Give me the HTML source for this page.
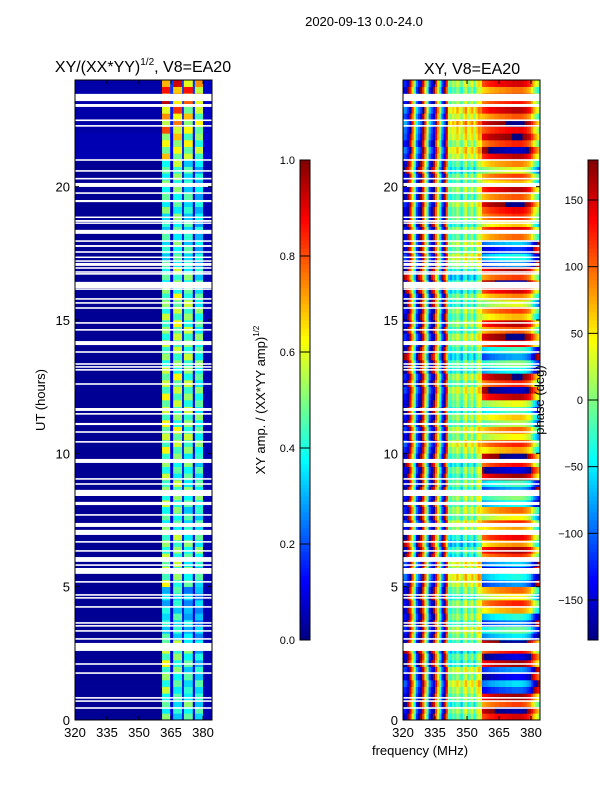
<!DOCTYPE html>
<html><head><meta charset="utf-8">
<style>
body{margin:0;background:#fff;width:600px;height:800px;overflow:hidden;font-family:"Liberation Sans","DejaVu Sans",sans-serif;}
svg text{font-family:"Liberation Sans","DejaVu Sans",sans-serif;fill:#000;}
</style></head><body>
<svg id="fig" width="600" height="800" xmlns="http://www.w3.org/2000/svg">
<text x="364" y="26" font-size="13" text-anchor="middle">2020-09-13 0.0-24.0</text>
<text x="143" y="72" font-size="16" text-anchor="middle">XY/(XX*YY)<tspan font-size="10" dy="-7">1/2</tspan><tspan dy="7">, V8=EA20</tspan></text>
<text x="472" y="74" font-size="16" text-anchor="middle">XY, V8=EA20</text>
<g id="left"></g>
<g id="right"></g>
<g id="axes"></g>
<text transform="translate(45,400) rotate(-90)" font-size="13" text-anchor="middle">UT (hours)</text>
<text x="420" y="755" font-size="13" text-anchor="middle">frequency (MHz)</text>
<text transform="translate(265,400) rotate(-90)" font-size="13" text-anchor="middle">XY amp. / (XX*YY amp)<tspan font-size="8" dy="-6">1/2</tspan></text>
<text transform="translate(544,400) rotate(-90)" font-size="13" text-anchor="middle">phase (deg)</text>
</svg>
<script>
// ---- data ----
const hours=[0,1,2,3,4,5,6,7,8,9,10,11,12,13,14,15,16,17,18,19,20,21,22,23];
const bandEdges=[[360.8,364.6],[366,370.2],[371,375.2],[376.2,380]];
const band1=[.45,.5,.55,.4,.35,.55,.5,.45,.5,.5,.55,.55,.55,.5,.5,.5,.45,.4,.4,.45,.45,.6,.7,.82];
const band2=[.4,.45,.5,.4,.4,.5,.5,.45,.5,.45,.55,.5,.55,.5,.55,.55,.5,.45,.45,.45,.5,.6,.72,.8];
const band3=[.45,.4,.45,.35,.3,.45,.45,.4,.45,.45,.5,.5,.5,.5,.5,.5,.45,.4,.4,.4,.4,.55,.6,.75];
const band4=[.4,.4,.35,.3,.3,.4,.45,.4,.45,.4,.45,.45,.45,.45,.45,.45,.4,.35,.35,.35,.35,.5,.55,.7];
const bgAmp=[.02,.02,.02,.02,.02,.02,.02,.02,.02,.02,.02,.02,.02,.02,.02,.02,.02,.02,.02,.02,.02,.05,.04,.04];
const gapAmp=[.1,.1,.1,.1,.08,.1,.1,.1,.1,.1,.1,.1,.1,.1,.1,.1,.1,.08,.08,.08,.08,.12,.15,.18];
const subRowAmp=[1.15,0.8,1.05,0.85];
const subRowPhase=[0,45,-35,20];
const gaps=[[23.21,23.48],[22.99,23.1],[22.46,22.52],[22.25,22.31],[20.97,21.03],[20.56,20.62],[20.27,20.33],[19.99,20.14],[19.73,19.79],[19.42,19.5],[18.83,18.88],[18.68,18.75],[18.61,18.66],[18.23,18.38],[17.93,17.99],[17.74,17.81],[17.52,17.58],[17.33,17.38],[17.18,17.24],[17.03,17.14],[16.92,16.98],[16.77,16.83],[16.7,16.76],[16.2,16.43],[16.13,16.19],[15.76,15.82],[15.61,15.67],[15.42,15.48],[14.86,14.92],[14.6,14.66],[14.06,14.21],[13.77,13.83],[13.32,13.38],[13.21,13.27],[13.1,13.16],[12.57,12.63],[11.59,11.7],[11.45,11.51],[11.06,11.14],[10.77,10.83],[10.4,10.46],[9.64,9.79],[9.01,9.07],[8.82,8.88],[8.4,8.63],[8.06,8.18],[7.66,7.72],[7.24,7.39],[6.94,7.13],[6.65,6.71],[6.31,6.37],[5.93,6.11],[5.78,5.84],[5.48,5.7],[5.15,5.21],[4.66,4.72],[4.55,4.61],[4.21,4.27],[3.61,3.67],[3.5,3.56],[3.31,3.37],[3.01,3.07],[2.59,2.89],[2.07,2.13],[1.73,1.79],[0.8,0.86],[0.68,0.74],[0.42,0.48]];
const freqPattern=[-150,-160,170,120,50,-20,-120,-160,175,110,40,-40,-130,-170,160,90,20,-60,-140,175,100,-20,-40,-10,-30,10,-20,-50,0,20,-30,-10,10,-40,0,30,20];
const hourShift=[0,30,-20,10,0,40,-30,20,0,-10,30,0,20,-20,10,0,-30,20,0,10,-10,40,60,20];
const hourRight=[110,-140,130,-90,40,-120,80,40,-80,130,40,-20,120,-80,100,30,110,-120,60,100,30,120,100,90];
const rightRamp=[0,5,10,15,20,20,25,25,30,30,30,35,35,35,40,40,40,40,40,35,30,20,10,-20,-50,-70,-90];
const ampTicks=[0,0.2,0.4,0.6,0.8,1.0];
const phaseTicks=[-150,-100,-50,0,50,100,150];
const freqTicks=[320,335,350,365,380];
const hourTicks=[0,5,10,15,20];

// ---- scales ----
const Y0=720,Y1=80,FMIN=320,FMAX=384.2;
const yS=h=>Y0-(h/24)*(Y0-Y1);
const xL=f=>75+(f-FMIN)/(FMAX-FMIN)*137;
const xR=f=>403+(f-FMIN)/(FMAX-FMIN)*137;
function jet(v){v=Math.max(0,Math.min(1,v));
 const c=x=>Math.round(255*Math.max(0,Math.min(1,x)));
 const r=c(Math.min(4*v-1.5,-4*v+4.5)),g=c(Math.min(4*v-0.5,-4*v+3.5)),b=c(Math.min(4*v+0.5,-4*v+2.5));
 return `rgb(${r},${g},${b})`;}
const NS='http://www.w3.org/2000/svg';
function mk(tag,attrs,parent){const e=document.createElementNS(NS,tag);for(const k in attrs)e.setAttribute(k,attrs[k]);parent.appendChild(e);return e;}
const wrap=p=>((p+180)%360+360)%360-180;
const NSUB=subRowAmp.length;

// ---- amplitude heatmap ----
const L=document.getElementById('left');
const bands=[band1,band2,band3,band4];
hours.forEach((h,i)=>{
 for(let s=0;s<NSUB;s++){
  const y=yS(h+(s+1)/NSUB),hh=yS(h+s/NSUB)-y;
  const segs=[[FMIN,bandEdges[0][0],bgAmp[i]]];
  bandEdges.forEach((be,b)=>{segs.push([be[0],be[1],bands[b][i]*subRowAmp[(s+b)%NSUB]]);
    if(b<3)segs.push([be[1],bandEdges[b+1][0],gapAmp[i]]);});
  segs.push([bandEdges[3][1],FMAX,bgAmp[i]+0.03]);
  segs.forEach(sg=>{const r=mk('rect',{x:xL(sg[0]),y:y,width:xL(sg[1])-xL(sg[0])+0.3,height:hh+0.3,fill:jet(sg[2])},L);
   
   });
 }
});
// ---- phase heatmap ----
const R=document.getElementById('right');
hours.forEach((h,i)=>{
 for(let s=0;s<NSUB;s++){
  const y=yS(h+(s+1)/NSUB),hh=yS(h+s/NSUB)-y;
  for(let c=0;c<64;c++){
   let p;
   if(c<freqPattern.length)p=freqPattern[c]+hourShift[i]+subRowPhase[s]*0.5;
   else p=hourRight[i]+rightRamp[Math.min(c-freqPattern.length,rightRamp.length-1)]+subRowPhase[s];
   const f=FMIN+c;
   const r=mk('rect',{x:xR(f),y:y,width:xR(f+1)-xR(f)+0.3,height:hh+0.3,fill:jet((wrap(p)+180)/360)},R);
   
   
  }
 }
});
// gaps
[[L,xL],[R,xR]].forEach(([g,xs])=>{gaps.forEach(gp=>{
 const r=mk('rect',{x:xs(FMIN),y:yS(gp[1]),width:137,height:Math.max(1.5,yS(gp[0])-yS(gp[1])),fill:'#fff'},g);
 
 });});

// ---- axes ----
const A=document.getElementById('axes');
[[75,xL],[403,xR]].forEach(([x0,xs])=>{
 const fr=mk('rect',{x:x0,y:Y1,width:137,height:Y0-Y1,fill:'none',stroke:'#000','stroke-width':1},A);
 
 
 hourTicks.forEach(t=>{const y=yS(t);
  mk('line',{x1:x0,x2:x0+4,y1:y,y2:y,stroke:'#000'},A);
  mk('line',{x1:x0+137,x2:x0+133,y1:y,y2:y,stroke:'#000'},A);
  const tx=mk('text',{x:x0-5,y:y+5,'font-size':13,'text-anchor':'end'},A);tx.textContent=t;
  
  });
 freqTicks.forEach(t=>{const x=xs(t);
  mk('line',{x1:x,x2:x,y1:Y0,y2:Y0-4,stroke:'#000'},A);
  mk('line',{x1:x,x2:x,y1:Y1,y2:Y1+4,stroke:'#000'},A);
  const tx=mk('text',{x:x,y:737,'font-size':13,'text-anchor':'middle'},A);tx.textContent=t;
  
  });
});
// ---- colorbars ----
function colorbar(x0,ticks,vmin,vmax,name){
 const g=mk('g',{},A);
 
 
 const top=160,bot=640,N=120;
 for(let k=0;k<N;k++){const v=(k+0.5)/N;
  mk('rect',{x:x0,y:bot-(k+1)*(bot-top)/N,width:10,height:(bot-top)/N+0.4,fill:jet(v)},g);}
 mk('rect',{x:x0,y:top,width:10,height:bot-top,fill:'none',stroke:'#000','stroke-width':1},g);
 ticks.forEach(t=>{const y=bot-(t-vmin)/(vmax-vmin)*(bot-top);
  mk('line',{x1:x0,x2:x0+10,y1:y,y2:y,stroke:'#000'},g);
  const tx=mk('text',{x:x0-5,y:y+4,'font-size':11,'text-anchor':'end'},g);
  tx.textContent=(vmax===1?t.toFixed(1):(t<0?'\u2212'+(-t):t));
  
  });
}
colorbar(300,ampTicks,0,1,'amp-colorbar');
colorbar(588,phaseTicks,-180,180,'phase-colorbar');
</script>
</body></html>
